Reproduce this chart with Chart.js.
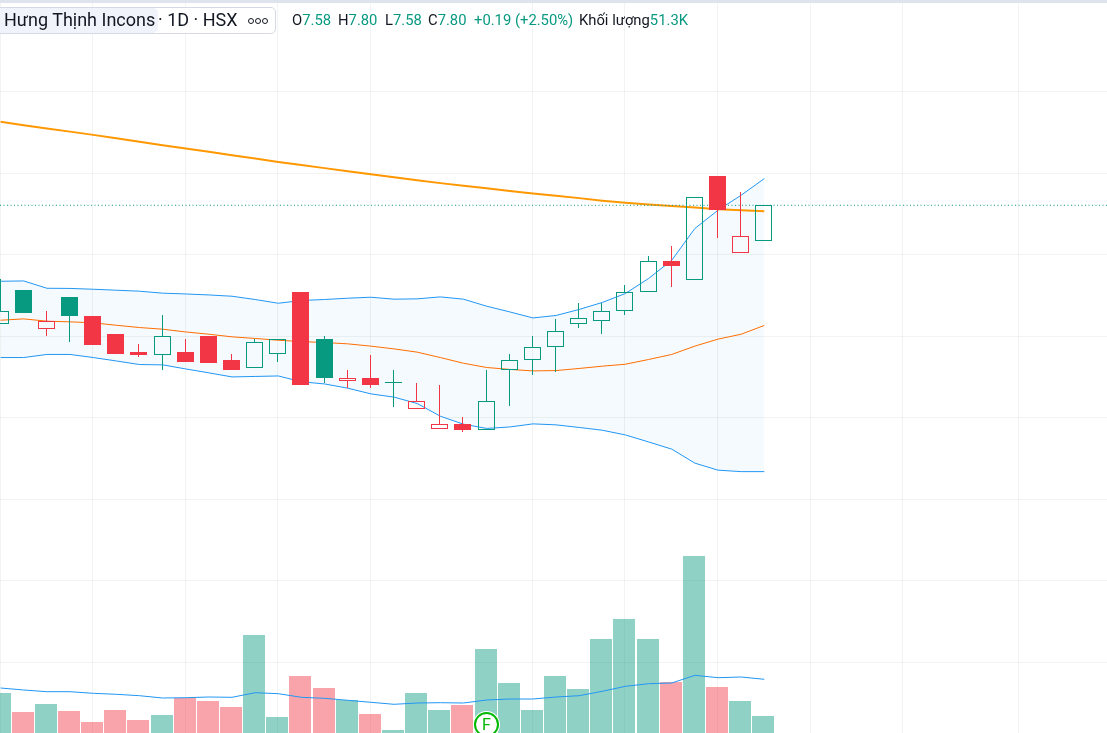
<!DOCTYPE html>
<html>
<head>
<meta charset="utf-8">
<style>
html,body{margin:0;padding:0;background:#fff;width:1107px;height:733px;overflow:hidden;font-family:Roboto,"Liberation Sans",sans-serif;}
#wrap{position:relative;width:1107px;height:733px;overflow:hidden;}
#c{position:absolute;left:0;top:0;}
#band{position:absolute;left:0;top:0;width:1107px;height:3px;background:#dfe3ee;}
#box{position:absolute;left:-8px;top:7px;width:282px;height:25px;border:1px solid #d6d9e2;border-radius:5px;background:#fff;}
#name{position:absolute;left:-8px;top:8px;width:166px;height:25px;background:#f0f3fa;border-radius:5px;}
.t{position:absolute;white-space:nowrap;color:#131722;}
.big{font-size:18px;top:10px;line-height:20px;}
.v{font-size:14.8px;top:13px;line-height:15px;}
.v b{font-weight:400;color:#089981;}
.dots{display:inline-block;width:4px;height:4px;border:1px solid #131722;border-radius:50%;position:absolute;top:17.5px;}
#f{position:absolute;left:474px;top:712px;width:21px;height:21px;border:2px solid #00b800;border-radius:50%;background:#fff;box-shadow:0 0 0 1px #fff;color:#00b800;font-size:16px;line-height:21px;text-align:center;}
</style>
</head>
<body>
<div id="wrap">
<canvas id="c" width="1107" height="733"></canvas>
<div id="band"></div>
<div id="box"></div>
<div id="name"></div>
<span class="t big" style="left:4px">Hưng Thịnh Incons</span>
<span class="t big" style="left:158px">· 1D · HSX</span>
<span class="dots" style="left:248px"></span><span class="dots" style="left:255px"></span><span class="dots" style="left:262px"></span>
<span class="t v" style="left:292px">O<b>7.58</b></span>
<span class="t v" style="left:338px">H<b>7.80</b></span>
<span class="t v" style="left:385px">L<b>7.58</b></span>
<span class="t v" style="left:428px">C<b>7.80</b></span>
<span class="t v" style="left:474px"><b>+0.19 (+2.50%)</b></span>
<span class="t v" style="left:579px">Khối lượng<b>51.3K</b></span>
<div id="f">F</div>
</div>
<script src="https://cdn.jsdelivr.net/npm/chart.js@4"></script>
<script>
const opens  = [7.07,7.28,7.04,7.24,7.12,7.01,6.90,6.88,6.90,7.00,6.85,6.80,6.89,7.27,6.98,6.72,6.74,6.71,6.55,6.43,6.46,6.42,6.79,6.85,6.93,7.07,7.09,7.15,7.27,7.46,7.34,7.98,7.51,7.58];
const highs  = [7.35,7.28,7.15,7.24,7.12,7.01,6.95,7.13,6.98,7.00,6.89,6.98,6.98,7.27,7.00,6.79,6.88,6.79,6.71,6.70,6.50,6.79,6.89,7.00,7.10,7.20,7.20,7.31,7.49,7.55,7.85,7.98,7.88,7.80];
const lows   = [7.07,7.14,7.00,6.96,6.94,6.89,6.87,6.79,6.84,6.83,6.79,6.80,6.84,6.70,6.71,6.68,6.68,6.56,6.55,6.43,6.41,6.42,6.57,6.76,6.78,7.05,7.01,7.13,7.27,7.30,7.34,7.60,7.51,7.58];
const closes = [7.15,7.14,7.09,7.12,6.94,6.89,6.88,7.00,6.84,6.83,6.79,6.96,6.98,6.70,6.74,6.74,6.70,6.71,6.60,6.46,6.42,6.60,6.85,6.93,7.03,7.11,7.15,7.27,7.46,7.43,7.85,7.77,7.61,7.80];
const candleUp = [1,1,0,1,0,0,0,1,0,0,0,1,1,0,1,0,0,1,0,0,0,1,1,1,1,1,1,1,1,0,1,0,0,1];
const volumes = [120000,63000,87000,66000,33000,69000,39000,54000,105000,96000,78000,294000,48000,171000,135000,99000,57000,9000,120000,69000,84000,252000,150000,69000,171000,132000,282000,342000,282000,153000,531000,138000,96000,51300];
const volumeUp = [1,0,1,0,0,0,0,1,0,0,0,1,1,0,0,1,0,1,1,1,0,1,1,1,1,1,1,1,1,0,1,0,1,1];
const volumeMA = [135000,129000,123900,123900,119100,116100,111900,105000,105900,108000,107100,120900,117900,107100,104100,98100,92100,86100,90000,90900,90000,99000,102000,102000,108000,111900,125100,140100,147900,150000,173100,165900,168000,161100];
const bbUpper = [7.334,7.336,7.291,7.290,7.285,7.279,7.273,7.261,7.256,7.250,7.242,7.222,7.199,7.216,7.222,7.230,7.236,7.224,7.226,7.238,7.224,7.181,7.146,7.109,7.124,7.161,7.204,7.259,7.351,7.463,7.658,7.770,7.862,7.964];
const bbBasis = [7.095,7.103,7.089,7.085,7.079,7.064,7.050,7.040,7.023,7.009,6.993,6.983,6.972,6.964,6.958,6.950,6.936,6.919,6.899,6.866,6.831,6.805,6.793,6.784,6.786,6.799,6.813,6.825,6.854,6.885,6.936,6.979,7.009,7.063];
const bbLower = [6.866,6.866,6.885,6.885,6.866,6.845,6.823,6.821,6.796,6.772,6.747,6.750,6.753,6.717,6.704,6.678,6.643,6.623,6.584,6.506,6.457,6.431,6.440,6.459,6.453,6.437,6.420,6.391,6.348,6.304,6.218,6.175,6.166,6.166];
const longMA = [8.312,8.291,8.271,8.252,8.232,8.212,8.190,8.169,8.148,8.128,8.107,8.087,8.066,8.047,8.028,8.009,7.991,7.972,7.954,7.936,7.920,7.905,7.887,7.872,7.858,7.844,7.828,7.815,7.805,7.796,7.787,7.776,7.770,7.764];
const lastPrice = 7.80;
const xGridIndices = [0,4,8,12,16,23,27,31,35,39,44];
const priceGridStep = 0.5;

const GREEN = '#089981', RED = '#F23645';
const xMin = -0.026, xMax = 47.807, xGridShift = 0.025, yGridShift = 0.0025;
const pts = arr => arr.map((y,x)=>({x,y}));
const rng = (a,b) => a.map((v,i)=>({x:i,y:[v,b[i]]}));
const colorOf = candleUp.map(u=>u?GREEN:RED);
const bodyTop = opens.map((o,i)=>Math.max(o,closes[i]));
const bodyBot = opens.map((o,i)=>Math.min(o,closes[i]));
const lineBase = {type:'line',yAxisID:'y',pointRadius:0,fill:false,tension:0,borderWidth:1};
const wickBase = {type:'bar',yAxisID:'y',grouped:false,barThickness:1,borderWidth:0,inflateAmount:0,backgroundColor:colorOf,order:20};

// Keep the bars the library has placed on whole device pixels, so edges stay crisp.
const pixelSnap = {
  id:'pixelSnap',
  afterDatasetsUpdate(chart){
    chart.data.datasets.forEach((ds,di)=>{
      if(ds.type!=='bar') return;
      const odd = ds.barThickness%2===1;
      chart.getDatasetMeta(di).data.forEach(el=>{
        el.x = Math.floor(el.x-0.5)+(odd?0.5:0);
        el.y = Math.round(el.y);
        el.base = Math.round(el.base);
        if(ds.minBarLength && el.y===el.base) el.base = el.y+1;
      });
    });
  }
};

new Chart(document.getElementById('c').getContext('2d'),{
  plugins:[pixelSnap],
  data:{datasets:[
    {type:'bar',label:'Volume',yAxisID:'v',grouped:false,barThickness:22,order:60,borderWidth:0,inflateAmount:0,
     data:pts(volumes),backgroundColor:volumeUp.map(u=>u?'rgba(8,153,129,0.45)':'rgba(242,54,69,0.45)')},
    {...lineBase,label:'Volume MA',yAxisID:'v',order:50,borderColor:'#2196F3',data:pts(volumeMA)},
    {...lineBase,label:'BB upper',order:40,borderColor:'#2196F3',data:pts(bbUpper),fill:{target:3},backgroundColor:'rgba(33,150,243,0.05)'},
    {...lineBase,label:'BB lower',order:41,borderColor:'#2196F3',data:pts(bbLower)},
    {...lineBase,label:'BB basis',order:39,borderColor:'#FF6D00',data:pts(bbBasis)},
    {...lineBase,label:'Long MA',order:35,borderColor:'#FF9800',borderWidth:2,data:pts(longMA)},
    {...lineBase,label:'Last price',order:30,borderColor:GREEN,borderDash:[1,2.5],data:[{x:xMin,y:lastPrice},{x:xMax,y:lastPrice}]},
    {...wickBase,label:'Upper wick',data:rng(bodyTop,highs)},
    {...wickBase,label:'Lower wick',data:rng(lows,bodyBot)},
    {type:'bar',label:'Body',yAxisID:'y',grouped:false,barThickness:17,order:10,minBarLength:1,borderWidth:1,borderSkipped:false,inflateAmount:0,
     data:rng(opens,closes),borderColor:colorOf,
     backgroundColor:opens.map((o,i)=>closes[i]>=o?'rgba(0,0,0,0)':colorOf[i])}
  ]},
  options:{
    responsive:false,animation:false,devicePixelRatio:1,
    layout:{padding:0},
    events:[],
    plugins:{legend:{display:false},tooltip:{enabled:false},title:{display:false},filler:{drawTime:'beforeDatasetsDraw'}},
    scales:{
      x:{type:'linear',min:xMin,max:xMax,offset:false,
         afterBuildTicks:s=>{s.ticks=xGridIndices.map(i=>({value:i-xGridShift}));},
         ticks:{display:false},border:{display:false},
         grid:{color:'rgba(42,46,57,0.06)',drawTicks:false,offset:false}},
      y:{type:'linear',position:'right',min:4.5625,max:9.0595,
         afterBuildTicks:s=>{s.ticks=s.ticks.filter(t=>Math.abs(t.value/priceGridStep-Math.round(t.value/priceGridStep))<1e-6).map(t=>({value:t.value-yGridShift}));},
         ticks:{display:false,stepSize:priceGridStep},border:{display:false},
         grid:{color:'rgba(42,46,57,0.06)',drawTicks:false}},
      v:{type:'linear',position:'left',min:0,max:2199000,display:false}
    }
  }
});
</script>
</body>
</html>
